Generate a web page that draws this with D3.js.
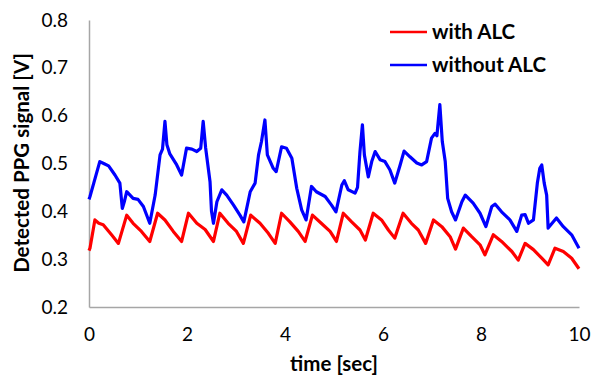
<!DOCTYPE html>
<html>
<head>
<meta charset="utf-8">
<script src="https://cdn.jsdelivr.net/npm/d3@7"></script>
<style>
  html, body { margin: 0; padding: 0; background: #fff; }
  svg { display: block; font-family: Lato, "Open Sans", sans-serif; }
</style>
</head>
<body>
<div id="chart"></div>
<script>
const xTicks = [0, 2, 4, 6, 8, 10];
const yTicks = [0.2, 0.3, 0.4, 0.5, 0.6, 0.7, 0.8];

const seriesNames = ["with ALC", "without ALC"];

// with ALC (red)
const redTime = [0.00, 0.02, 0.12, 0.20, 0.29, 0.46, 0.60, 0.77, 0.90, 1.07, 1.24, 1.40, 1.55, 1.72, 1.89,
  2.03, 2.20, 2.37, 2.54, 2.67, 2.84, 3.01, 3.15, 3.30, 3.49, 3.66, 3.80, 3.93, 4.10, 4.27, 4.41,
  4.56, 4.74, 4.92, 5.05, 5.19, 5.36, 5.53, 5.64, 5.80, 5.97, 6.11, 6.24, 6.41, 6.58, 6.72, 6.87,
  7.03, 7.20, 7.37, 7.48, 7.64, 7.81, 7.98, 8.08, 8.25, 8.42, 8.63, 8.76, 8.90, 9.07, 9.24, 9.37,
  9.51, 9.68, 9.85, 10.00];
const redValue = [0.318, 0.323, 0.382, 0.375, 0.372, 0.351, 0.333, 0.392, 0.375, 0.358, 0.337, 0.396, 0.382, 0.358, 0.337,
  0.396, 0.375, 0.362, 0.337, 0.396, 0.375, 0.358, 0.333, 0.392, 0.375, 0.354, 0.333, 0.396, 0.378, 0.358, 0.337,
  0.392, 0.375, 0.358, 0.337, 0.396, 0.378, 0.361, 0.340, 0.396, 0.382, 0.361, 0.344, 0.396, 0.375, 0.361, 0.333,
  0.382, 0.368, 0.347, 0.321, 0.365, 0.347, 0.330, 0.309, 0.351, 0.337, 0.316, 0.298, 0.333, 0.320, 0.302, 0.288,
  0.323, 0.316, 0.302, 0.280];

// without ALC (blue)
const blueTime = [0.00, 0.02, 0.10, 0.22, 0.30, 0.40, 0.53, 0.63, 0.68, 0.72, 0.77, 0.90, 1.00, 1.11, 1.24,
  1.35, 1.45, 1.50, 1.55, 1.59, 1.65, 1.79, 1.89, 1.99, 2.10, 2.20, 2.28, 2.33, 2.38, 2.47, 2.50, 2.54,
  2.61, 2.71, 2.81, 2.95, 3.08, 3.16, 3.29, 3.39, 3.46, 3.52, 3.59, 3.64, 3.76, 3.82, 3.93, 4.03, 4.14,
  4.24, 4.34, 4.43, 4.54, 4.64, 4.82, 4.95, 5.04, 5.16, 5.21, 5.29, 5.43, 5.48, 5.53, 5.58, 5.62, 5.70,
  5.77, 5.84, 5.94, 6.04, 6.14, 6.24, 6.35, 6.43, 6.55, 6.69, 6.79, 6.89, 6.99, 7.06, 7.10, 7.16, 7.21,
  7.27, 7.32, 7.40, 7.48, 7.61, 7.68, 7.84, 7.98, 8.10, 8.22, 8.29, 8.42, 8.59, 8.73, 8.83, 8.90, 8.97,
  9.07, 9.15, 9.20, 9.24, 9.29, 9.34, 9.37, 9.54, 9.68, 9.85, 10.00];
const blueValue = [0.425, 0.431, 0.460, 0.504, 0.500, 0.495, 0.476, 0.459, 0.406, 0.420, 0.441, 0.427, 0.425, 0.410, 0.375,
  0.434, 0.518, 0.530, 0.588, 0.539, 0.520, 0.497, 0.476, 0.532, 0.530, 0.525, 0.532, 0.588, 0.533, 0.462, 0.400, 0.375,
  0.420, 0.445, 0.434, 0.413, 0.392, 0.378, 0.441, 0.459, 0.518, 0.546, 0.591, 0.518, 0.490, 0.483, 0.535, 0.532, 0.511,
  0.448, 0.403, 0.382, 0.452, 0.441, 0.431, 0.413, 0.399, 0.455, 0.464, 0.445, 0.438, 0.450, 0.525, 0.581, 0.518, 0.472,
  0.504, 0.525, 0.508, 0.504, 0.487, 0.459, 0.497, 0.526, 0.514, 0.501, 0.497, 0.504, 0.553, 0.563, 0.558, 0.623, 0.546,
  0.504, 0.427, 0.399, 0.382, 0.420, 0.434, 0.417, 0.396, 0.368, 0.410, 0.415, 0.399, 0.382, 0.358, 0.392, 0.393, 0.375,
  0.382, 0.459, 0.490, 0.497, 0.459, 0.434, 0.365, 0.386, 0.368, 0.351, 0.323];

const W = 594, H = 383;
const margin = { top: 20, right: 15, bottom: 76, left: 89 };
const w = W - margin.left - margin.right;
const h = H - margin.top - margin.bottom;

const AXIS = "#a6a6a6";
const TEXT = "#000";
const colors = ["#ff0000", "#0000ff"];
const TITLE_SIZE = 20.5;

const svg = d3.select("#chart").append("svg")
  .attr("width", W).attr("height", H);

const g = svg.append("g").attr("transform", `translate(${margin.left},${margin.top})`);

const x = d3.scaleLinear().domain([0, 10]).range([0, w]);
const y = d3.scaleLinear().domain([0.2, 0.8]).range([h, 0]);

g.append("g")
  .attr("transform", `translate(0,${h})`)
  .call(d3.axisBottom(x).tickValues(xTicks).tickSize(0).tickPadding(21).tickFormat(d3.format("d")))
  .call(a => a.select(".domain").attr("stroke", AXIS).attr("stroke-width", 1.5))
  .call(a => a.selectAll(".tick text").attr("fill", TEXT).attr("font-size", 19).attr("font-family", "Lato, sans-serif"));

g.append("g")
  .call(d3.axisLeft(y).tickValues(yTicks).tickSize(0).tickPadding(21).tickFormat(d3.format(".1f")))
  .call(a => a.select(".domain").attr("stroke", AXIS).attr("stroke-width", 1.5))
  .call(a => a.selectAll(".tick text").attr("fill", TEXT).attr("font-size", 19).attr("font-family", "Lato, sans-serif"));

const line = d3.line().x(d => x(d[0])).y(d => y(d[1]));

const series = [
  d3.zip(redTime, redValue),
  d3.zip(blueTime, blueValue)
];

[1, 0].forEach(i => {
  g.append("path")
    .datum(series[i])
    .attr("fill", "none")
    .attr("stroke", colors[i])
    .attr("stroke-width", 3.2)
    .attr("stroke-linejoin", "round")
    .attr("d", line);
});

// axis titles
svg.append("text")
  .attr("x", margin.left + w / 2).attr("y", 371)
  .attr("text-anchor", "middle")
  .attr("font-size", TITLE_SIZE).attr("font-weight", 700).attr("fill", TEXT)
  .text("time [sec]");

svg.append("text")
  .attr("transform", "translate(29,163) rotate(-90)")
  .attr("text-anchor", "middle")
  .attr("font-size", TITLE_SIZE).attr("font-weight", 700).attr("fill", TEXT)
  .text("Detected PPG signal [V]");

// legend
const legend = svg.append("g").attr("transform", "translate(390,32)");
seriesNames.forEach((name, i) => {
  const row = legend.append("g").attr("transform", `translate(0,${i * 33})`);
  row.append("line")
    .attr("x1", 0).attr("x2", 37).attr("y1", 0).attr("y2", 0)
    .attr("stroke", colors[i]).attr("stroke-width", 2.5);
  row.append("text")
    .attr("x", 42).attr("y", 0).attr("dy", "0.35em")
    .attr("font-size", TITLE_SIZE).attr("font-weight", 700).attr("fill", TEXT)
    .text(name);
});
</script>
</body>
</html>
